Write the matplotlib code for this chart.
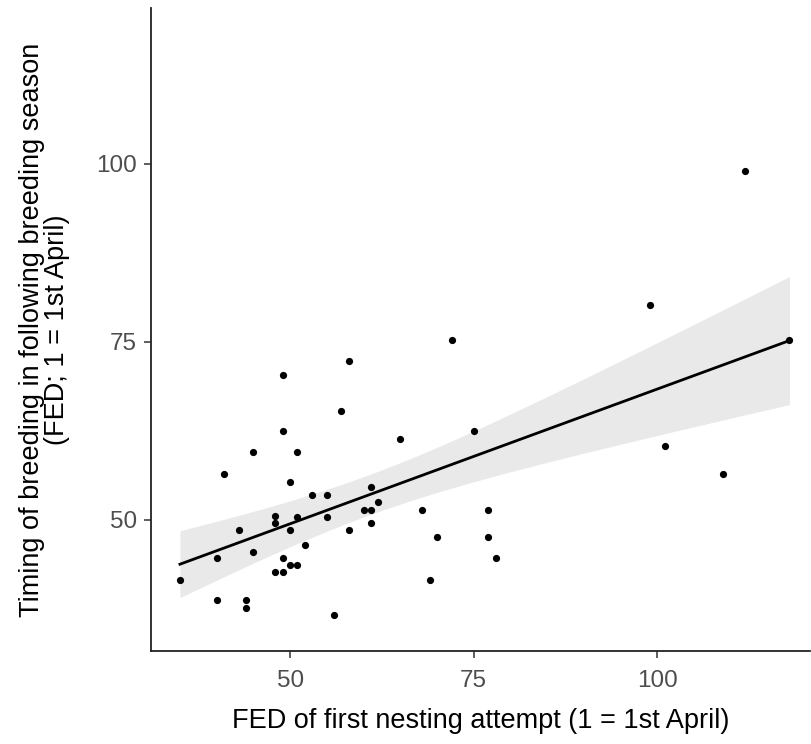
import numpy as np
import matplotlib
matplotlib.use("Agg")
import matplotlib.pyplot as plt

plt.rcParams['font.family'] = ['Liberation Sans', 'DejaVu Sans']

# FED of first nesting attempt
fed_first = [58, 49, 57, 65, 49, 45, 51, 41, 50, 53, 55, 61, 62, 60, 61, 61, 55, 48,
             48, 51, 43, 50, 58, 52, 45, 40, 49, 50, 51, 48, 49, 35, 40, 44, 44, 56,
             112, 99, 72, 118, 75, 101, 109, 68, 77, 70, 77, 78, 69]
# FED in following breeding season
fed_next = [72.3, 70.3, 65.3, 61.4, 62.4, 59.5, 59.5, 56.4, 55.3, 53.5, 53.5, 54.6, 52.5,
            51.4, 51.4, 49.6, 50.4, 50.5, 49.6, 50.4, 48.5, 48.5, 48.5, 46.5, 45.4, 44.6,
            44.6, 43.6, 43.6, 42.6, 42.6, 41.5, 38.7, 38.7, 37.6, 36.6,
            99.0, 80.2, 75.2, 75.2, 62.4, 60.3, 56.4, 51.4, 51.4, 47.5, 47.5, 44.6, 41.5]

x = np.array(fed_first, dtype=float)
y = np.array(fed_next, dtype=float)

# linear fit with 95% confidence band (like geom_smooth(method = "lm"))
n = len(x)
slope, icpt = np.polyfit(x, y, 1)
xs = np.linspace(x.min(), x.max(), 80)
ys = icpt + slope * xs
resid = y - (icpt + slope * x)
s = np.sqrt(np.sum(resid ** 2) / (n - 2))
sxx = np.sum((x - x.mean()) ** 2)
se = s * np.sqrt(1 / n + (xs - x.mean()) ** 2 / sxx)
tval = 2.0117  # t(0.975, df=47)
lo, hi = ys - tval * se, ys + tval * se

fig = plt.figure(figsize=(8.12, 7.44), dpi=100)
ax = fig.add_axes([151 / 812, 1 - 651 / 744, 659 / 812, 643 / 744])

ax.fill_between(xs, lo, hi, color='#E9E9E9', linewidth=0, zorder=1)
ax.plot(xs, ys, color='black', linewidth=2.0, zorder=2)
ax.scatter(x, y, s=27, color='black', zorder=3, linewidths=0)

ax.set_xlim(31.06, 120.8)
ax.set_ylim(31.55, 121.9)
ax.set_xticks([50, 75, 100])
ax.set_yticks([50, 75, 100])

for side in ['top', 'right']:
    ax.spines[side].set_visible(False)
for side in ['left', 'bottom']:
    ax.spines[side].set_linewidth(1.3)
    ax.spines[side].set_color('#222222')

ax.tick_params(axis='both', direction='out', length=5, width=1.1, color='#333333',
               labelsize=17.5, labelcolor='#4D4D4D')
ax.tick_params(axis='x', pad=9)
ax.tick_params(axis='y', pad=5)

ax.set_xlabel('FED of first nesting attempt (1 = 1st April)', fontsize=19.5, labelpad=11)
ax.set_ylabel('Timing of breeding in following breeding season\n(FED; 1 = 1st April)',
              fontsize=19.5, labelpad=19, linespacing=0.95)

fig.savefig('out.png', dpi=100)
